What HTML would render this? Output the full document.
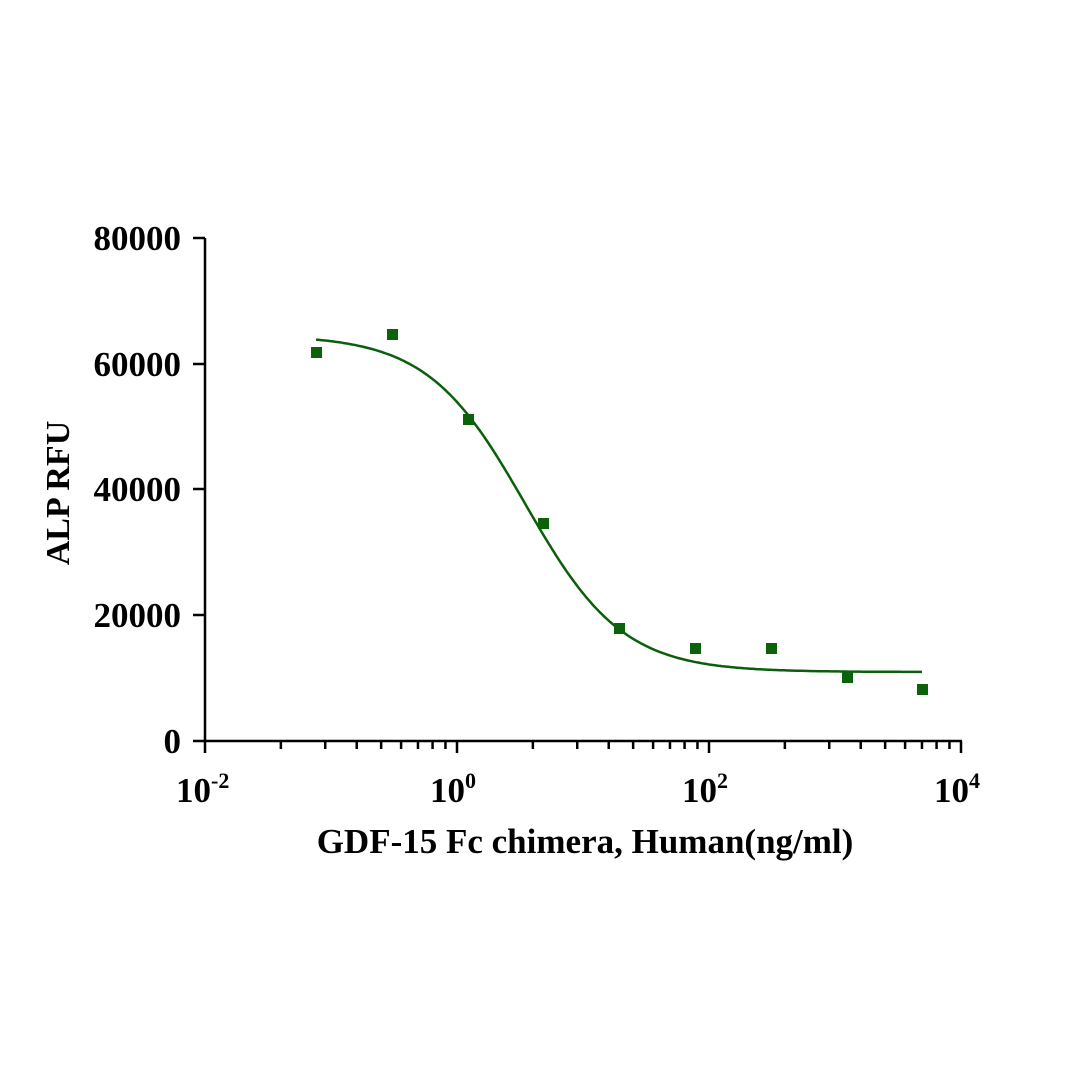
<!DOCTYPE html>
<html><head><meta charset="utf-8"><style>
html,body{margin:0;padding:0;background:#fff;}
svg text{font-family:"Liberation Serif",serif;font-weight:bold;fill:#000;}
</style></head><body>
<svg id="s" width="1066" height="1066" viewBox="0 0 1066 1066" xmlns="http://www.w3.org/2000/svg">
<g stroke="#000" stroke-width="2.5" fill="none" id="ax">
<line x1="205" y1="238" x2="205" y2="753"/>
<line x1="193" y1="741" x2="962" y2="741"/>
<line x1="193" y1="238" x2="205" y2="238"/>
<line x1="193" y1="364" x2="205" y2="364"/>
<line x1="193" y1="489" x2="205" y2="489"/>
<line x1="193" y1="615" x2="205" y2="615"/>
<line x1="457" y1="741" x2="457" y2="753"/>
<line x1="709" y1="741" x2="709" y2="753"/>
<line x1="961" y1="741" x2="961" y2="753"/>
</g>
<g font-size="35" text-anchor="end">
<text x="181" y="250">80000</text>
<text x="181" y="376">60000</text>
<text x="181" y="501">40000</text>
<text x="181" y="627">20000</text>
<text x="181" y="753">0</text>
</g>
<g font-size="35">
<text x="176" y="802">10<tspan font-size="22" dy="-14">-2</tspan></text>
<text x="430" y="802">10<tspan font-size="22" dy="-14">0</tspan></text>
<text x="682" y="802">10<tspan font-size="22" dy="-14">2</tspan></text>
<text x="934" y="802">10<tspan font-size="22" dy="-14">4</tspan></text>
</g>
<text x="585" y="853" font-size="35" text-anchor="middle">GDF-15 Fc chimera, Human(ng/ml)</text>
<text transform="translate(69,493) rotate(-90)" font-size="34" text-anchor="middle">ALP RFU</text>
<path id="c" fill="none" stroke="#0b5e0b" stroke-width="2.5"/>
<g fill="#0b620b">
<rect x="311" y="347" width="11" height="11"/>
<rect x="387" y="329" width="11" height="11"/>
<rect x="463" y="414" width="11" height="11"/>
<rect x="538" y="518" width="11" height="11"/>
<rect x="614" y="623" width="11" height="11"/>
<rect x="690" y="643" width="11" height="11"/>
<rect x="766" y="643" width="11" height="11"/>
<rect x="842" y="672" width="11" height="11"/>
<rect x="917" y="684" width="11" height="11"/>
</g>
</svg>
<script>
var ax=document.getElementById('ax'),ns="http://www.w3.org/2000/svg";
[205,457,709].forEach(function(b){for(var k=2;k<=9;k++){var x=b+252*Math.log10(k);var l=document.createElementNS(ns,'line');l.setAttribute('x1',x);l.setAttribute('x2',x);l.setAttribute('y1',741);l.setAttribute('y2',749);ax.appendChild(l);}});
var d="";for(var x=316;x<=922;x+=2){var y=335+337/(1+Math.pow(10,-(x-525)*0.0089));d+=(x==316?"M":"L")+x+","+y.toFixed(1);}
document.getElementById('c').setAttribute('d',d);
</script>
</body></html>
